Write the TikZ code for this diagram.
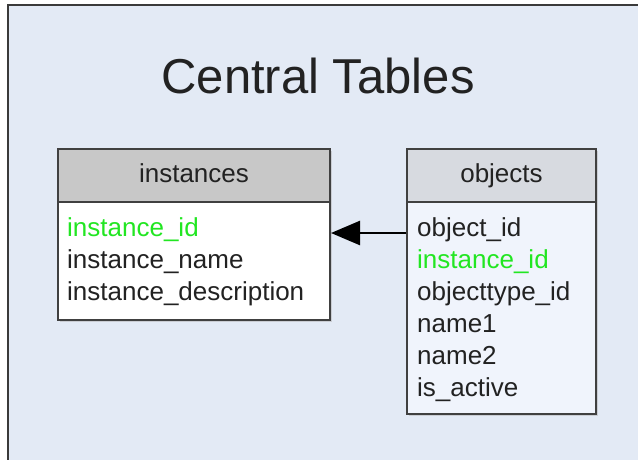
\documentclass[tikz,border=0pt]{standalone}
\usepackage{fontspec}
\setmainfont{Liberation Sans}
\usetikzlibrary{arrows.meta,shadows}

\definecolor{canvas}{HTML}{E3EAF5}
\definecolor{framegray}{HTML}{3A3A3A}
\definecolor{tableline}{HTML}{404040}
\definecolor{insthead}{HTML}{C8C8C8}
\definecolor{objhead}{HTML}{D7DAE0}
\definecolor{objbody}{HTML}{F0F4FC}
\definecolor{keygreen}{HTML}{22E622}
\definecolor{fieldtext}{HTML}{222222}

\tikzset{
  tablebox/.style={draw=tableline,line width=2pt,inner sep=0pt,
    drop shadow={shadow xshift=2pt,shadow yshift=-2pt,fill=black!30}},
  tablehead/.style={tablebox,minimum width=#1,minimum height=53pt,
    text height=19pt,text depth=5pt,font=\fontsize{26}{32}\selectfont,text=fieldtext},
  tablebody/.style 2 args={tablebox,minimum width=#1,minimum height=#2},
  field/.style={anchor=base west,inner sep=0pt,font=\fontsize{26}{32}\selectfont,text=fieldtext},
  keyfield/.style={field,text=keygreen},
  fk/.style={draw=black,line width=2.5pt,-{Triangle[length=29pt,width=24pt]}}
}

\begin{document}
\begin{tikzpicture}
[x=1pt,y=-1pt]
\useasboundingbox (0,0) rectangle (638,459);
\clip (0,0) rectangle (638,459);
% background panel
\fill[canvas] (8,5) rectangle (650,470);
\draw[framegray,line width=2.5pt] (8,470) |- (650,5);
\node[font=\fontsize{49}{58}\selectfont,anchor=base,text=fieldtext] (title) at (318,93) {Central Tables};

% instances table
\node[tablehead=272pt,fill=insthead] (ihead) at (194,175.5) {instances};
\node[tablebody={272pt}{118pt},fill=white] (ibody) at (194,261) {};
\node[keyfield] (ifld1) at (67,236) {instance\_id};
\node[field] (ifld2) at (67,268) {instance\_name};
\node[field] (ifld3) at (67,300) {instance\_description};

% objects table
\node[tablehead=189pt,fill=objhead] (ohead) at (501.5,175.5) {objects};
\node[tablebody={189pt}{212pt},fill=objbody] (obody) at (501.5,308) {};
\node[field] (ofld1) at (417,236) {object\_id};
\node[keyfield] (ofld2) at (417,268) {instance\_id};
\node[field] (ofld3) at (417,300) {objecttype\_id};
\node[field] (ofld4) at (417,332) {name1};
\node[field] (ofld5) at (417,364) {name2};
\node[field] (ofld6) at (417,396) {is\_active};

% foreign key
\coordinate (fkrow) at (0,233);
\draw[fk] (obody.west |- fkrow) -- (ibody.east |- fkrow);
\end{tikzpicture}
\end{document}
